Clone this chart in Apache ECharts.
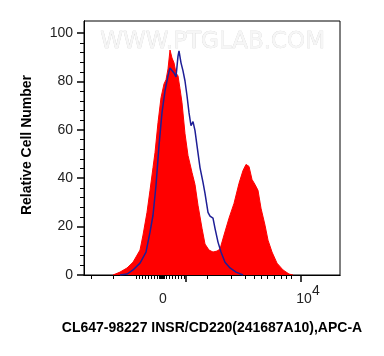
<!DOCTYPE html>
<html>
<head>
<meta charset="utf-8">
<script src="https://cdn.jsdelivr.net/npm/echarts@6/dist/echarts.min.js"></script>
<style>
html,body{margin:0;padding:0;background:#fff;}
#chart{width:384px;height:356px;}
</style>
</head>
<body>
<div id="chart"></div>
<script>
// Channel positions (display scale 0..256) and relative cell counts
const redChannel = [29,36,43,49,56,59,63,66,69,71,74,77,80,82,84,86,88,90,92,94,96,98,101,104,108,111,114,118,121,125,129,133,136,140,145,150,155,159,162,163,165,168,171,174,177,181,184,188,193,199,205,209];
const redCount   = [0,1.2,2.9,5.3,10.3,16.5,25.9,35.0,44.4,50.6,63.0,73.3,79.0,80.7,85.2,93.0,89.7,87.7,83.5,82.3,77.0,71.2,58.4,49.4,42.4,37.4,28.8,19.3,12.8,10.3,9.5,9.9,10.7,16.5,23.5,29.6,37.9,43.2,45.7,46.1,44.9,39.5,37.4,35.0,27.6,20.6,14.4,9.5,4.9,2.1,0.4,0];
const blueChannel = [36,43,49,56,62,66,69,72,75,78,81,84,86,88,90,92,94,95,97,99,101,103,105,107,109,111,113,116,119,121,124,126,129,131,134,137,141,146,152,159];
const blueCount   = [0,0.4,2.1,4.9,9.5,17.7,24.7,37.0,53.5,67.1,76.1,82.3,85.6,85.2,83.5,81.9,90.5,92.6,87.7,84.4,80.2,74.1,67.1,61.7,63.4,59.7,53.5,44.4,38.3,33.7,25.9,24.3,23.5,19.3,13.6,9.5,5.3,2.9,1.2,0];

const xMajorTicks = [102, 217];
const xMinorTicks = [7,29,52,55,58,61,64,67,70,73,75,76,77,78,79,80,82,85,88,91,94,97,100,123,147,161,170,177,183,190,197,202,207];
const xLabelValues = [79, 217];
const yMajorTicks = [0,20,40,60,80,100];
const yMinorTicks = [4,8,12,16,24,28,32,36,44,48,52,56,64,68,72,76,84,88,92,96];

const X_MIN = 0, X_MAX = 256, Y_MIN = 0, Y_MAX = 105;
const chart = echarts.init(document.getElementById('chart'));

const baseX = {
  type: 'value', min: X_MIN, max: X_MAX, position: 'bottom',
  axisLine: {onZero: false, lineStyle: {color: '#000', width: 1}},
  splitLine: {show: false}
};
const baseY = {
  type: 'value', min: Y_MIN, max: Y_MAX, position: 'left',
  axisLine: {onZero: false, lineStyle: {color: '#000', width: 1}},
  splitLine: {show: false}
};

chart.setOption({
  animation: false,
  backgroundColor: '#fff',
  grid: {left: 84, top: 21, width: 256, height: 254, show: true, borderColor: '#000', borderWidth: 1, backgroundColor: 'transparent'},
  xAxis: [
    Object.assign({}, baseX, {
      axisTick: {show: true, customValues: xMajorTicks, length: 7, lineStyle: {color: '#000', width: 1.5}},
      axisLabel: {
        show: true, customValues: xLabelValues, margin: 9, color: '#222',
        fontFamily: 'Liberation Sans, Arial, sans-serif', fontSize: 14,
        formatter: function (v) { return v === 217 ? '{t|10}{s|4}' : '{n|0}'; },
        rich: {
          n: {fontSize: 14, color: '#222', fontFamily: 'Liberation Sans, Arial, sans-serif', padding: [8, 0, 0, 0]},
          t: {fontSize: 14, color: '#222', fontFamily: 'Liberation Sans, Arial, sans-serif', padding: [8, 0, 0, 14]},
          s: {fontSize: 14, color: '#222', fontFamily: 'Liberation Sans, Arial, sans-serif', padding: [0, 0, 8, 0]}
        }
      }
    }),
    Object.assign({}, baseX, {
      axisTick: {show: true, customValues: xMinorTicks, length: 4, lineStyle: {color: '#000', width: 1}},
      axisLabel: {show: false}
    })
  ],
  yAxis: [
    Object.assign({}, baseY, {
      axisTick: {show: true, customValues: yMajorTicks, length: 7, lineStyle: {color: '#000', width: 1.5}},
      axisLabel: {show: true, customValues: yMajorTicks, margin: 11, color: '#222', fontSize: 14, fontFamily: 'Liberation Sans, Arial, sans-serif'}
    }),
    Object.assign({}, baseY, {
      axisTick: {show: true, customValues: yMinorTicks, length: 4, lineStyle: {color: '#000', width: 1}},
      axisLabel: {show: false}
    })
  ],
  graphic: [
    {type: 'text', left: 100, top: 30, z: 0, silent: true,
     style: {text: 'WWW.PTGLAB.COM', fontSize: 23, fontFamily: 'DejaVu Sans, sans-serif', fontWeight: 'normal', fill: '#f6f6f6', stroke: '#d2d2d2', lineWidth: 0.5}},
    {type: 'text', x: 27, y: 145, rotation: Math.PI / 2,
     style: {text: 'Relative Cell Number', fontSize: 14, fontWeight: 'bold', fontFamily: 'Liberation Sans, Arial, sans-serif', fill: '#000', align: 'center', verticalAlign: 'middle'}},
    {type: 'text', x: 212, y: 328,
     style: {text: 'CL647-98227 INSR/CD220(241687A10),APC-A', fontSize: 14, fontWeight: 'bold', fontFamily: 'Liberation Sans, Arial, sans-serif', fill: '#000', align: 'center', verticalAlign: 'middle'}}
  ],
  series: [
    {type: 'line', name: 'sample', xAxisIndex: 0, yAxisIndex: 0, symbol: 'none', z: 2,
     data: redChannel.map((c, i) => [c, redCount[i]]),
     lineStyle: {color: '#ff0000', width: 1}, areaStyle: {color: '#ff0000', opacity: 1}},
    {type: 'line', name: 'control', xAxisIndex: 0, yAxisIndex: 0, symbol: 'none', z: 3,
     data: blueChannel.map((c, i) => [c, blueCount[i]]),
     lineStyle: {color: '#1e1e96', width: 1.5}}
  ]
});
</script>
</body>
</html>
